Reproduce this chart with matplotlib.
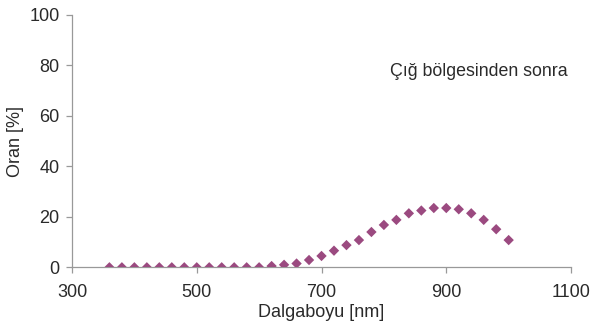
import matplotlib
matplotlib.use("Agg")
import matplotlib.pyplot as plt

plt.rcParams['font.family'] = ['Liberation Sans', 'DejaVu Sans']

wavelength = [360, 380, 400, 420, 440, 460, 480, 500, 520, 540, 560, 580, 600,
              620, 640, 660, 680, 700, 720, 740, 760, 780, 800, 820, 840, 860,
              880, 900, 920, 940, 960, 980, 1000]
ratio = [0, 0, 0, 0, 0, 0, 0, 0, 0, 0, 0, 0, 0,
         0.5, 1.0, 1.5, 2.9, 4.5, 6.6, 8.8, 10.8, 14.0, 16.8, 18.8, 21.4, 22.5,
         23.5, 23.5, 23.0, 21.4, 18.8, 15.1, 10.8]
xticks = [300, 500, 700, 900, 1100]
yticks = [0, 20, 40, 60, 80, 100]

fig = plt.figure(figsize=(5.92, 3.26), dpi=100)
ax = fig.add_axes([0.1216, 0.18, 0.843, 0.774])
ax.scatter(wavelength, ratio, marker='D', s=28, color='#9b4a80', edgecolors='none', zorder=3)
ax.set_xlim(300, 1100)
ax.set_ylim(0, 100)
ax.set_xticks(xticks)
ax.set_yticks(yticks)
for s in ['top', 'right']:
    ax.spines[s].set_visible(False)
for s in ['left', 'bottom']:
    ax.spines[s].set_color('#999999')
    ax.spines[s].set_linewidth(0.9)
ax.tick_params(axis='both', colors='#999999', labelcolor='#2a2a2a', labelsize=13, length=4, width=0.9)
ax.tick_params(axis='x', pad=8)
ax.tick_params(axis='y', pad=5)
ax.set_xlabel('Dalgaboyu [nm]', fontsize=13, color='#2a2a2a', labelpad=2)
ax.set_ylabel('Oran [%]', fontsize=13, color='#2a2a2a', labelpad=4)
ax.text(810, 77.5, 'Çığ bölgesinden sonra', fontsize=12.8, color='#2a2a2a', va='center', ha='left')
fig.savefig('out.png', dpi=100)
